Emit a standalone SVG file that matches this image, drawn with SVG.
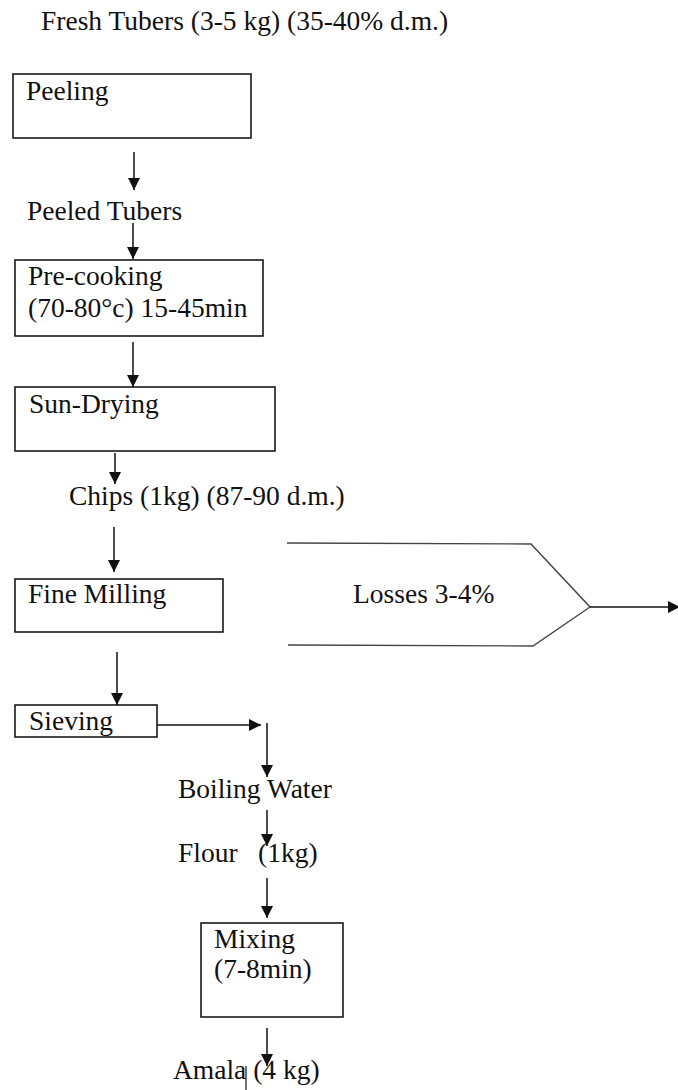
<svg xmlns="http://www.w3.org/2000/svg" width="678" height="1090" viewBox="0 0 678 1090">
<style>
text{font-family:"Liberation Serif","Times New Roman",serif;font-size:27.5px;fill:#111}
.box{fill:#fff;stroke:#1a1a1a;stroke-width:1.6}
.ln{stroke:#111;stroke-width:1.5;fill:none}
</style>
<defs>
<marker id="ah" markerUnits="userSpaceOnUse" markerWidth="12" markerHeight="13" refX="12" refY="6.5" orient="auto">
<path d="M0,0.5 L12,6.5 L0,12.5 z" fill="#111"/>
</marker>
</defs>
<rect width="678" height="1090" fill="#fff"/>
<g id="title"><text x="41" y="30">Fresh Tubers (3-5 kg) (35-40% d.m.)</text></g>
<g id="peeling"><rect class="box" x="13" y="74" width="238" height="64"/><text x="26" y="100">Peeling</text></g>
<g id="peeled"><text x="27" y="220">Peeled Tubers</text></g>
<g id="precooking"><rect class="box" x="15" y="260" width="248" height="76"/><text x="28" y="285">Pre-cooking</text><text x="28" y="317">(70-80°c) 15-45min</text></g>
<g id="sundrying"><rect class="box" x="15" y="387" width="260" height="64"/><text x="29" y="413">Sun-Drying</text></g>
<g id="chips"><text x="69" y="505">Chips (1kg) (87-90 d.m.)</text></g>
<g id="finemilling"><rect class="box" x="15" y="579" width="208" height="53"/><text x="28" y="603">Fine Milling</text></g>
<g id="losses"><polyline points="287,543 531,544 590,607 533,646 288,645" fill="none" stroke="#444" stroke-width="1.4"/><text x="353" y="603">Losses 3-4%</text></g>
<g id="sieving"><rect class="box" x="15" y="705" width="142" height="32"/><text x="29" y="730">Sieving</text></g>
<g id="boiling"><text x="178" y="798">Boiling Water</text></g>
<g id="flour"><text x="178" y="862">Flour<tspan x="258">(1kg)</tspan></text></g>
<g id="mixing"><rect class="box" x="201" y="923" width="142" height="94"/><text x="214" y="948">Mixing</text><text x="214" y="978">(7-8min)</text></g>
<g id="amala"><text x="173" y="1079">Amala (4 kg)</text><line x1="246" y1="1066" x2="246" y2="1090" stroke="#111" stroke-width="1.2"/></g>
<g id="connectors">
<line class="ln" x1="134" y1="152" x2="134" y2="190" marker-end="url(#ah)"/>
<line class="ln" x1="133" y1="223" x2="133" y2="259" marker-end="url(#ah)"/>
<line class="ln" x1="133" y1="342" x2="133" y2="387" marker-end="url(#ah)"/>
<line class="ln" x1="115" y1="453" x2="115" y2="484" marker-end="url(#ah)"/>
<line class="ln" x1="114" y1="527" x2="114" y2="572" marker-end="url(#ah)"/>
<line class="ln" x1="117" y1="652" x2="117" y2="705" marker-end="url(#ah)"/>
<line class="ln" x1="157" y1="725" x2="261" y2="725" marker-end="url(#ah)"/>
<line class="ln" x1="267" y1="723" x2="267" y2="777" marker-end="url(#ah)"/>
<line class="ln" x1="267" y1="810" x2="267" y2="846" marker-end="url(#ah)"/>
<line class="ln" x1="267" y1="878" x2="267" y2="918" marker-end="url(#ah)"/>
<line class="ln" x1="267" y1="1028" x2="267" y2="1066" marker-end="url(#ah)"/>
<line class="ln" x1="590" y1="607" x2="680" y2="607" marker-end="url(#ah)"/>
</g>
</svg>
